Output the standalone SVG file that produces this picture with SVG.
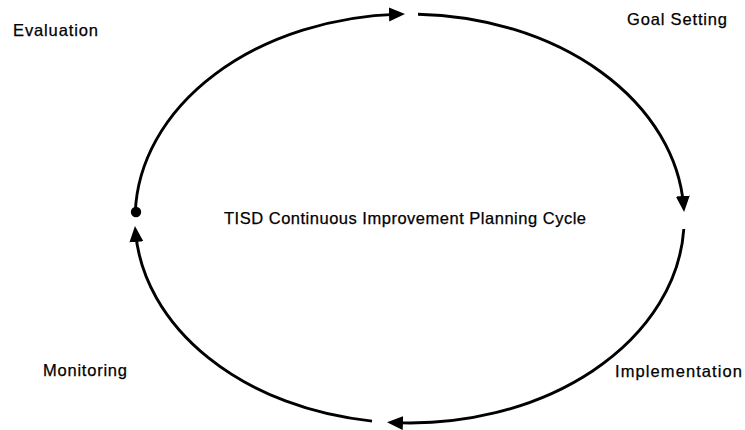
<svg xmlns="http://www.w3.org/2000/svg" width="745" height="430" viewBox="0 0 745 430">
<style>
.arc{fill:none;stroke:#000;stroke-width:2.9;stroke-linecap:butt;marker-end:url(#ah)}
.lbl{font-family:"Liberation Sans",Arial,sans-serif;font-size:16.5px;fill:#000;stroke:#000;stroke-width:0.25}
</style>
<defs>
<marker id="ah" markerUnits="userSpaceOnUse" markerWidth="17" markerHeight="15" refX="10" refY="7" orient="auto">
<path d="M0,0 L16,7 L0,14 z" fill="#000"/>
</marker>
</defs>
<rect width="745" height="430" fill="#fff"/>
<g id="connectors">
<path class="arc" d="M135.3,212 A274.5,204.5 0 0 1 399,14.1"/>
<path class="arc" d="M418,14.2 A274.5,204.5 0 0 1 683.6,206"/>
<path class="arc" d="M683.8,229 A274.5,204.5 0 0 1 393,422.6"/>
<path class="arc" d="M372,421.1 A274.5,204.5 0 0 1 135.5,232"/>
<circle cx="136" cy="212" r="5.2" fill="#000"/>
</g>
<g id="evaluation"><text class="lbl" x="13" y="36" textLength="85" lengthAdjust="spacing">Evaluation</text></g>
<g id="goal-setting"><text class="lbl" x="627" y="25" textLength="100" lengthAdjust="spacing">Goal Setting</text></g>
<g id="implementation"><text class="lbl" x="615" y="377" textLength="127" lengthAdjust="spacing">Implementation</text></g>
<g id="monitoring"><text class="lbl" x="43" y="376" textLength="84" lengthAdjust="spacing">Monitoring</text></g>
<g id="title"><text class="lbl" x="224" y="224" textLength="362" lengthAdjust="spacing">TISD Continuous Improvement Planning Cycle</text></g>
</svg>
